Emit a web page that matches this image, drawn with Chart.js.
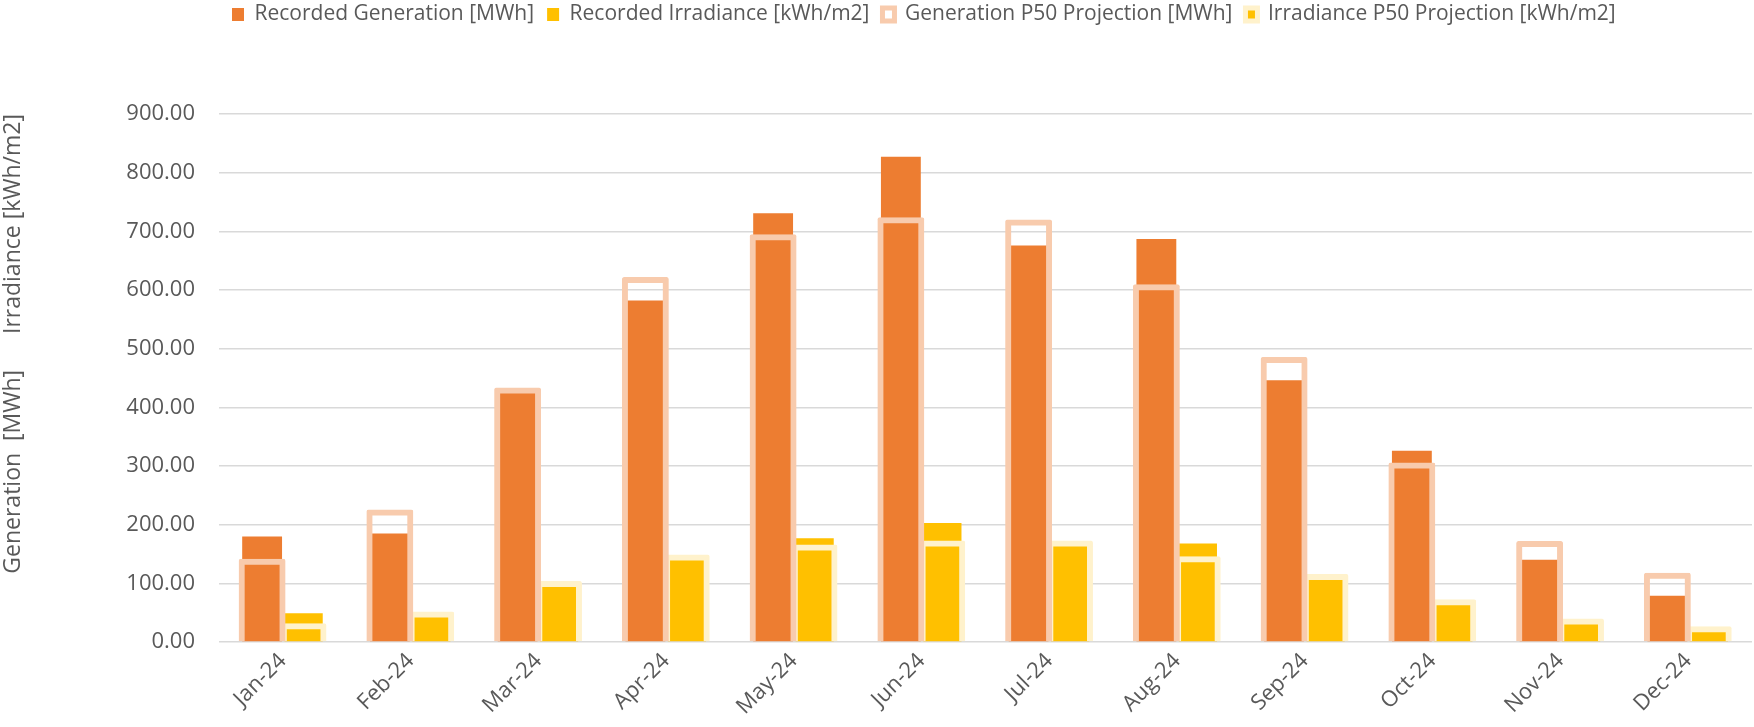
<!DOCTYPE html>
<html>
<head>
<meta charset="utf-8">
<script src="https://cdn.jsdelivr.net/npm/chart.js@4/dist/chart.umd.min.js"></script>
<style>
  html, body { margin: 0; padding: 0; background: #fff; }
  #wrap { width: 1754px; height: 727px; }
</style>
</head>
<body>
<div id="wrap"><canvas id="energyChart"></canvas></div>
<script>
// Monthly values
const months = ["Jan-24", "Feb-24", "Mar-24", "Apr-24", "May-24", "Jun-24",
                "Jul-24", "Aug-24", "Sep-24", "Oct-24", "Nov-24", "Dec-24"];
const recordedGeneration = [180, 185, 428, 582, 731, 827, 676, 687, 446, 326, 140, 79];
const recordedIrradiance = [49, 48, 99, 146, 177, 203, 169, 168, 111, 68, 35, 22];
const generationP50 = [142, 226, 434, 622, 695, 724, 720, 610, 486, 306, 172, 118];
const irradianceP50 = [32, 52, 104, 149, 166, 173, 173, 146, 116, 73, 40, 27];
const yTicks = [0, 100, 200, 300, 400, 500, 600, 700, 800, 900];

const textColor = "#595959";
const fontFamily = "'Open Sans', 'Noto Sans', sans-serif";

// extra room under the legend so the plot starts lower
const legendSpacer = {
    id: "legendSpacer",
    beforeInit(chart) {
        const origFit = chart.legend.fit;
        chart.legend.fit = function () {
            origFit.bind(chart.legend)();
            this.height = 123;
        };
    },
};

const ctx = document.getElementById("energyChart").getContext("2d");
const energyChart = new Chart(ctx, {
    type: "bar",
    data: {
        labels: months,
        datasets: [
            {
                label: "Recorded Generation [MWh]",
                data: recordedGeneration,
                backgroundColor: "#ED7D31",
                borderWidth: 0,
                stack: "gen",
                order: 1,
                barPercentage: 0.96,
            },
            {
                label: "Recorded Irradiance [kWh/m2]",
                data: recordedIrradiance,
                backgroundColor: "#FFC000",
                borderWidth: 0,
                stack: "irr",
                order: 1,
                barPercentage: 0.92,
            },
            {
                label: "Generation P50 Projection [MWh]",
                data: generationP50,
                backgroundColor: "rgba(255,255,255,0)",
                borderColor: "#F8CBAD",
                borderWidth: 6,
                borderRadius: 2,
                stack: "gen",
                order: 0,
                barPercentage: 1.13,
            },
            {
                label: "Irradiance P50 Projection [kWh/m2]",
                data: irradianceP50,
                backgroundColor: "rgba(255,255,255,0)",
                borderColor: "#FFF2CC",
                borderWidth: 6,
                borderRadius: 2,
                stack: "irr",
                order: 0,
                barPercentage: 1.1,
            },
        ],
    },
    options: {
        responsive: true,
        maintainAspectRatio: false,
        animation: false,
        categoryPercentage: 0.65,
        layout: {
            padding: { top: -9, right: 2, bottom: 0, left: 0 },
        },
        scales: {
            x: {
                stacked: true,
                grid: { display: false, drawTicks: false },
                border: { display: false },
                ticks: {
                    color: textColor,
                    font: { family: fontFamily, size: 22 },
                    minRotation: 45,
                    maxRotation: 45,
                    padding: 6,
                },
                afterFit(scale) {
                    scale.height = 85;
                },
            },
            y: {
                stacked: false,
                min: 0,
                max: 900,
                afterBuildTicks(scale) {
                    scale.ticks = yTicks.map((v) => ({ value: v }));
                },
                grid: { color: "#D9D9D9", lineWidth: 1.5, drawTicks: false },
                border: { display: false },
                ticks: {
                    color: textColor,
                    font: { family: fontFamily, size: 22 },
                    padding: 24,
                    callback: (v) => Number(v).toFixed(2),
                },
                title: {
                    display: true,
                    text: "Generation  [MWh]      Irradiance [kWh/m2]",
                    color: textColor,
                    align: "end",
                    font: { family: fontFamily, size: 23 },
                    padding: { top: 0, bottom: 0 },
                },
                afterFit(scale) {
                    scale.width = 219;
                },
            },
        },
        plugins: {
            legend: {
                position: "top",
                align: "start",
                fullSize: false,
                labels: {
                    color: textColor,
                    font: { family: fontFamily, size: 21 },
                    boxWidth: 12,
                    boxHeight: 13,
                    padding: 13,
                    sort: (a, b) => a.datasetIndex - b.datasetIndex,
                    generateLabels(chart) {
                        const items = Chart.defaults.plugins.legend.labels.generateLabels(chart);
                        items.forEach((item) => {
                            if (item.datasetIndex === 2) {
                                item.fillStyle = "#FFFFFF";
                                item.lineWidth = 5;
                            } else if (item.datasetIndex === 3) {
                                item.fillStyle = "#FFC000";
                                item.lineWidth = 5;
                            }
                        });
                        return items;
                    },
                },
            },
            tooltip: { enabled: false },
        },
    },
    plugins: [legendSpacer],
});
</script>
</body>
</html>
